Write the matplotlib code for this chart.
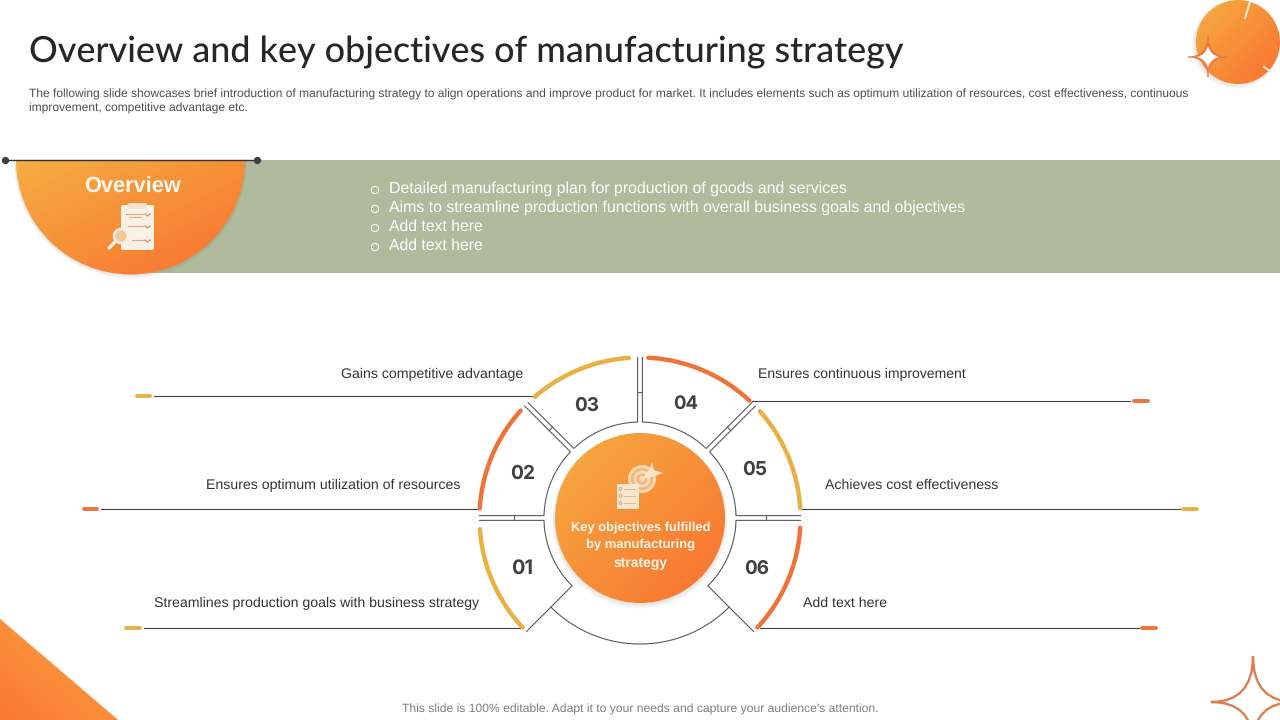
import numpy as np
import matplotlib
matplotlib.use("Agg")
import matplotlib.pyplot as plt
from matplotlib.patches import Circle, Wedge, Polygon, PathPatch, Rectangle, FancyBboxPatch
from matplotlib.path import Path

plt.rcParams["text.hinting"] = "no_hinting"

# ---------- content ----------
TITLE = "Overview and key objectives of manufacturing strategy"
INTRO = ["The following slide showcases brief introduction of manufacturing strategy to align operations and improve product for market. It includes elements such as optimum utilization of resources, cost effectiveness, continuous",
         "improvement, competitive advantage etc."]
BULLETS = ["Detailed manufacturing plan for production of goods and services",
           "Aims to streamline production functions with overall business goals and objectives",
           "Add text here", "Add text here"]
BULLET_Y = [188, 207, 226, 245]
BULLET_RIGHT = [848, 967, 483, 483]
FOOTER = "This slide is 100% editable. Adapt it to your needs and capture your audience's attention."
CENTER_TEXT = ["Key objectives fulfilled", "by manufacturing", "strategy"]
CENTER_TEXT_Y = [527, 544, 562]
CENTER_TEXT_W = [140, 109, 54]

NUMBERS = ["01", "02", "03", "04", "05", "06"]
NUMBER_X = [522, 523, 587, 686, 755, 757]
NUMBER_Y = [568, 473, 405, 403, 469, 568]
LABELS = ["Streamlines production goals with business strategy",
          "Ensures optimum utilization of resources",
          "Gains competitive advantage",
          "Ensures continuous improvement",
          "Achieves cost effectiveness",
          "Add text here"]
LABEL_LEFT = [154, 206, 341, 758, 825, 803]
LABEL_RIGHT = [478, 460, 523, 966, 998, 887]
LABEL_Y = [602, 484, 373, 373, 484, 602]
LEAD_Y = [628, 509, 396, 401, 509, 628]
LEAD_START = [144, 101, 154, 752, 802, 760]
LEAD_END = [522, 479, 532, 1130, 1180, 1139]
DASH_START = [124, 82, 135, 1132, 1181, 1140]
DASH_END = [141, 98, 151, 1149, 1198, 1157]

# segment boundaries (degrees, counter-clockwise) and coloured arc spans
SEG_FROM = [180, 135, 90, 45, 0, -45]
SEG_TO = [225, 180, 135, 90, 45, 0]
ARC_FROM = [184, 138, 94, 47, 3.5, -43]
ARC_TO = [223, 176.5, 131, 87, 41.7, -3.5]

AMBER, ORANGE = "#E9B044", "#EE7338"
ARC_COLORS = [AMBER, ORANGE, AMBER, ORANGE, AMBER, ORANGE]
GRAD_A, GRAD_B = "#F5AE42", "#F9702F"
SAGE = "#B0BA9C"
DARK = "#404040"
LINE = "#5A5A5A"
SANS = "Liberation Sans"

CX, CY = 640, 518
R_OUT, R_MID, R_IN, R_CORE = 160.5, 126, 96, 85

# ---------- canvas ----------
fig = plt.figure(figsize=(12.8, 7.2), dpi=100, facecolor="white")
ax = fig.add_axes([0, 0, 1, 1])
ax.set_xlim(0, 1280); ax.set_ylim(720, 0); ax.axis("off"); ax.set_autoscale_on(False)
renderer = fig.canvas.get_renderer()


def hex_rgb(h):
    return np.array(matplotlib.colors.to_rgb(h))


def gradient(x0, y0, x1, y1, clip, a=GRAD_A, b=GRAD_B, direction=(1, 1), z=3):
    """Paint a linear gradient over a box, clipped to a patch."""
    n = 200
    u, v = np.meshgrid(np.linspace(0, 1, n), np.linspace(0, 1, n))
    t = (u * direction[0] + v * direction[1])
    t = (t - t.min()) / (t.max() - t.min())
    img = hex_rgb(a)[None, None, :] * (1 - t[..., None]) + hex_rgb(b)[None, None, :] * t[..., None]
    im = ax.imshow(img, extent=(x0, x1, y1, y0), origin="upper", aspect="auto", zorder=z, interpolation="bilinear")
    clip.set_transform(ax.transData)
    im.set_clip_path(clip)


def fit(x, y, s, width=None, size=10, ha="left", **kw):
    t = ax.text(x, y, s, fontsize=size, ha=ha, va="center", **kw)
    if width:
        for _ in range(3):
            w = t.get_window_extent(renderer).width
            t.set_fontsize(t.get_fontsize() * width / w)
    return t


def soft_shadow(make, z=2, n=5, alpha=0.035):
    for i in range(n):
        p = make(i + 1)
        p.set(facecolor="#7a6a60", edgecolor="none", alpha=alpha, zorder=z)
        ax.add_patch(p)


def pol(r, deg, off=0.0):
    t = np.radians(deg)
    return (CX + r * np.cos(t) - off * np.sin(t), CY - r * np.sin(t) - off * np.cos(t))


def star(cx, cy, rx_l, rx_r, ry_t, ry_b, k=0.0):
    verts = [(cx, cy - ry_t),
             (cx + k * rx_r, cy - k * ry_t), (cx + rx_r, cy),
             (cx + k * rx_r, cy + k * ry_b), (cx, cy + ry_b),
             (cx - k * rx_l, cy + k * ry_b), (cx - rx_l, cy),
             (cx - k * rx_l, cy - k * ry_t), (cx, cy - ry_t)]
    codes = [Path.MOVETO] + [Path.CURVE3] * 8
    return Path(verts, codes)


# ---------- header ----------
fit(29, 52.5, TITLE, width=874, size=24, family="Lato", weight="medium", color="#262626")
fit(29, 94, INTRO[0], width=1163, size=8.6, family=SANS, color="#4d4d4d")
fit(29, 108.5, INTRO[1], width=219, size=8.6, family=SANS, color="#4d4d4d")

# top-right badge
badge = Circle((1238, 42), 42)
soft_shadow(lambda i: Circle((1238 - i * 0.5, 42 + i * 0.6), 42 + i * 0.3))
gradient(1196, 0, 1280, 84, badge, z=3)
ax.plot([1250, 1245], [2, 18], color="#FBE8D8", lw=1.4, zorder=4, solid_capstyle="round")
ax.plot([1264, 1270], [67, 71], color="#FBE8D8", lw=1.4, zorder=4)
ax.add_patch(PathPatch(star(1208, 57, 20, 19, 22, 20, k=0.02), fc="#EE7A3C", ec="#EE7A3C", lw=0.5, zorder=5))
ax.add_patch(PathPatch(star(1208, 57, 11, 11, 11, 11, k=0.2), fc="white", ec="none", zorder=6))

# overview band
ax.add_patch(Rectangle((130, 160), 1150, 113, facecolor=SAGE, edgecolor="none", zorder=1))
semi = Wedge((130.5, 160), 114.5, 0, 180)
soft_shadow(lambda i: Wedge((130.5, 160 + i * 0.4), 114.5 + i * 0.4, 0, 180), z=1.5)
gradient(16, 160, 245, 275, semi, z=3)
ax.plot([5, 257], [160, 160], color="#333333", lw=1.0, zorder=5)
ax.plot([5, 257], [160, 160], ls="none", marker="o", ms=4.2, color="#3b3f44", zorder=6)
fit(132, 187.5, "Overview", width=97, size=16, ha="center", family=SANS, weight="bold", color="#FFF8EE", zorder=6)

# clipboard icon
CREAM = "#F8F1E6"
ax.add_patch(FancyBboxPatch((121, 205), 33, 45, boxstyle="round,pad=0,rounding_size=2", fc=CREAM, ec="none", zorder=6))
ax.add_patch(FancyBboxPatch((128, 203), 19, 6, boxstyle="round,pad=0,rounding_size=1.5", fc="#F3E2CC", ec="none", zorder=7))
for yy, x0, x1 in [(214, 126, 143), (216.5, 129, 141), (226, 128, 143), (240, 132, 144)]:
    ax.plot([x0, x1], [yy, yy], color="#D9A98A", lw=0.8, zorder=7)
for yy in (214, 226, 240):
    ax.plot([145, 147.5, 150], [yy, yy + 2, yy], color="#E48A5A", lw=0.9, zorder=7)
ax.add_patch(Circle((121, 236), 7, fc="#F6C59A", ec=CREAM, lw=1.8, zorder=8))
ax.plot([115, 109], [242, 248], color=CREAM, lw=2.4, solid_capstyle="round", zorder=8)

# bullets
for s, y, r in zip(BULLETS, BULLET_Y, BULLET_RIGHT):
    fit(389, y + 1, s, width=r - 389, size=12, family=SANS, color="white", zorder=4)
    ax.add_patch(Circle((375, y + 2), 3.6, fc="none", ec="white", lw=0.7, zorder=4))

# ---------- leader lines ----------
for i in range(6):
    ax.plot([LEAD_START[i], LEAD_END[i]], [LEAD_Y[i]] * 2, color="#404040", lw=0.8, zorder=2)
    ax.plot([DASH_START[i] + 1.5, DASH_END[i] - 1.5], [LEAD_Y[i]] * 2, color=ARC_COLORS[i], lw=2.8,
            solid_capstyle="round", zorder=2)
    fit(LABEL_LEFT[i], LABEL_Y[i] + 1, LABELS[i], width=LABEL_RIGHT[i] - LABEL_LEFT[i], size=10.5,
        family=SANS, color="#333333")

# ---------- ring ----------
OFF = 2.4
for i in range(6):
    a0, a1 = SEG_FROM[i], SEG_TO[i]
    off0 = OFF if a0 != -45 else 0.0
    off1 = -OFF if a1 != 225 else 0.0
    da0 = np.degrees(np.arcsin(off0 / R_IN)); da1 = np.degrees(np.arcsin(off1 / R_IN))
    inner = np.linspace(a0 + da0, a1 + da1, 40)
    pts = [pol(R_OUT, a0, off0)] + [pol(R_IN, t) for t in inner] + [pol(R_OUT, a1, off1)]
    ax.plot(*zip(*pts), color=LINE, lw=0.8, zorder=3)
    # connector ticks bridging the gap between neighbouring segments
    if a0 != -45:
        ax.plot(*zip(pol(R_MID, a0, OFF), pol(R_MID, a0, -OFF)), color=LINE, lw=0.8, zorder=3)
    # coloured rim
    th = np.linspace(ARC_FROM[i], ARC_TO[i], 60)
    ax.plot(*zip(*[pol(R_OUT, t) for t in th]), color=ARC_COLORS[i], lw=3.2, solid_capstyle="round", zorder=4)
    fit(NUMBER_X[i], NUMBER_Y[i] + 1, NUMBERS[i], width=25 if i != 0 else 22, size=14, ha="center", family="Inter",
        weight="bold", color=DARK, zorder=5)

th = np.linspace(225, 315, 80)
ax.plot(*zip(*[pol(R_MID, t) for t in th]), color=LINE, lw=0.8, zorder=3)

# core
soft_shadow(lambda i: Circle((CX, CY + i * 0.6), R_CORE + i * 0.5), z=3.5)
core = Circle((CX, CY), R_CORE)
gradient(CX - R_CORE, CY - R_CORE, CX + R_CORE, CY + R_CORE, core, z=4)
for s, y, w in zip(CENTER_TEXT, CENTER_TEXT_Y, CENTER_TEXT_W):
    fit(CX + 1, y + 1, s, width=w, size=10, ha="center", family=SANS, weight="bold", color="#FFF6EA", zorder=6)

# target + checklist icon
for r, fc in [(14, "#F8D9B4"), (11, "#F5B578"), (8.5, "#F8D9B4"), (5.5, "#F5B578"), (3, "#F8D9B4")]:
    ax.add_patch(Circle((642, 479), r, fc=fc, ec="none", zorder=6))
ax.add_patch(Polygon([(642, 479), (650, 468), (652, 462), (654, 470), (663, 473), (652, 477)], fc="#FBE6CC", ec="none", zorder=7))
ax.add_patch(FancyBboxPatch((617, 484), 22, 25, boxstyle="round,pad=0,rounding_size=1", fc="#F8E6CE", ec="none", zorder=6))
for yy in (489, 496, 503):
    ax.add_patch(Circle((620.5, yy), 1.4, fc="none", ec="#D9A070", lw=0.6, zorder=7))
    ax.plot([624, 635], [yy, yy], color="#E0B48E", lw=0.7, zorder=7)

# ---------- decorations ----------
tri = Polygon([(0, 619), (118, 720), (0, 720)])
ax.add_patch(Polygon([(0, 617), (120, 720), (0, 720)], fc="#7a6a90", ec="none", alpha=0.10, zorder=2))
gradient(0, 619, 118, 720, tri, a="#FBA541", b="#FB7733", direction=(-1, 1), z=3)
ax.add_patch(PathPatch(star(1253, 702, 42, 42, 46, 42), fc="none", ec="#DD7C4E", lw=1.7, zorder=3))

fit(640, 709.5, FOOTER, width=475, size=8.6, ha="center", family=SANS, color="#7f7f7f")

fig.savefig("out.png", dpi=100, facecolor="white")
